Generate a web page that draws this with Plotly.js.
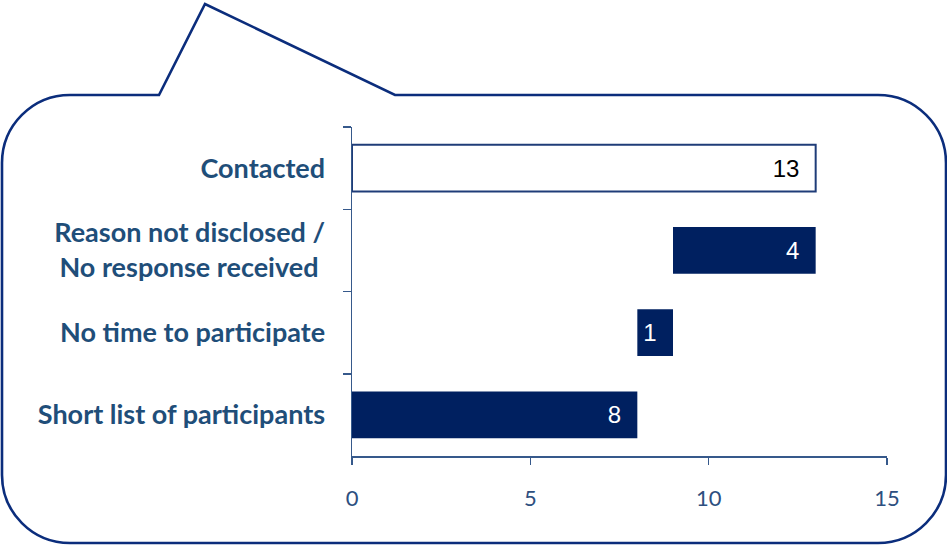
<!DOCTYPE html>
<html>
<head>
<meta charset="utf-8">
<script src="https://cdn.plot.ly/plotly-3.0.1.min.js"></script>
<style>
  html, body { margin: 0; padding: 0; background: #ffffff; }
  #chart { width: 947px; height: 545px; }
</style>
</head>
<body>
<div id="chart"></div>
<script>
// ---- data ----
const categories = [
  'Contacted',
  'Reason not disclosed /<br>No response received ',
  'No time to participate',
  'Short list of participants'
];
const values = [13, 4, 1, 8];
const barKinds = ['total', 'drop', 'drop', 'total'];
const xTicks = [0, 5, 10, 15];

// waterfall starts derived from the values
const bases = [];
let running = 0;
values.forEach((v, i) => {
  if (barKinds[i] === 'total') { bases.push(0); running = v; }
  else { running -= v; bases.push(running); }
});

const navy = '#002060';
const labelBlue = '#1f4e79';
const axisBlue = '#36598b';
const bubbleBlue = '#0b2d7c';

// plot area in pixels
const L = 352, R = 887, T = 127, B = 456;
const W = 947, H = 545;
function P(px, py) {
  return ((px - L) / (R - L)).toFixed(5) + ',' + ((B - py) / (B - T)).toFixed(5);
}
const k = 0.5523, r = 68;
const bubble =
  'M' + P(2, 95 + r) +
  ' C' + P(2, 95 + r - k * r) + ' ' + P(2 + r - k * r, 95) + ' ' + P(2 + r, 95) +
  ' L' + P(159, 95) + ' L' + P(205, 4) + ' L' + P(395, 95) + ' L' + P(946 - r, 95) +
  ' C' + P(946 - r + k * r, 95) + ' ' + P(946, 95 + r - k * r) + ' ' + P(946, 95 + r) +
  ' L' + P(946, 543 - r) +
  ' C' + P(946, 543 - r + k * r) + ' ' + P(946 - r + k * r, 543) + ' ' + P(946 - r, 543) +
  ' L' + P(2 + r, 543) +
  ' C' + P(2 + r - k * r, 543) + ' ' + P(2, 543 - r + k * r) + ' ' + P(2, 543 - r) +
  ' Z';

const textColors = values.map((v, i) => i === 0 ? '#000000' : '#ffffff');

const trace = {
  type: 'bar',
  orientation: 'h',
  y: categories,
  x: values,
  base: bases,
  width: 0.57,
  marker: {
    color: values.map((v, i) => i === 0 ? '#ffffff' : navy),
    line: { color: values.map((v, i) => i === 0 ? '#1f3c78' : navy), width: values.map((v, i) => i === 0 ? 2 : 0) }
  },
  text: values.map(v => v + '\u00a0\u00a0'),
  textposition: 'inside',
  insidetextanchor: 'end',
  textangle: 0,
  constraintext: 'none',
  textfont: { family: '"Liberation Sans", Arial, sans-serif', size: 24, color: textColors },
  insidetextfont: { family: '"Liberation Sans", Arial, sans-serif', size: 24, color: textColors },
  hoverinfo: 'skip'
};

const layout = {
  width: W, height: H,
  margin: { l: L, r: W - R, t: T, b: H - B, pad: 0 },
  paper_bgcolor: '#ffffff',
  plot_bgcolor: 'rgba(0,0,0,0)',
  showlegend: false,
  uniformtext: { mode: false },
  xaxis: {
    range: [0, 15],
    tickvals: xTicks,
    ticktext: xTicks.map(String),
    ticks: 'outside', ticklen: 7, tickwidth: 1.5, tickcolor: axisBlue,
    showline: true, linecolor: axisBlue, linewidth: 1.5,
    showgrid: false, zeroline: false,
    ticklabelstandoff: 15,
    tickfont: { family: 'Lato, "Open Sans", sans-serif', size: 22, color: '#2e4f80' },
    fixedrange: true
  },
  yaxis: {
    type: 'category',
    categoryorder: 'array',
    categoryarray: categories,
    autorange: 'reversed',
    tickson: 'boundaries',
    ticks: 'outside', ticklen: 8, tickwidth: 1.5, tickcolor: axisBlue,
    showline: true, linecolor: axisBlue, linewidth: 1.5,
    showgrid: false, zeroline: false,
    ticklabelstandoff: 20,
    tickfont: { family: 'Lato, "Open Sans", sans-serif', size: 27, color: labelBlue, weight: 'bold' },
    fixedrange: true
  },
  shapes: [{
    type: 'path', xref: 'paper', yref: 'paper', layer: 'below',
    path: bubble,
    line: { color: bubbleBlue, width: 2.6 },
    fillcolor: 'rgba(0,0,0,0)'
  }]
};

Plotly.newPlot('chart', [trace], layout, { displayModeBar: false, staticPlot: true });
</script>
</body>
</html>
